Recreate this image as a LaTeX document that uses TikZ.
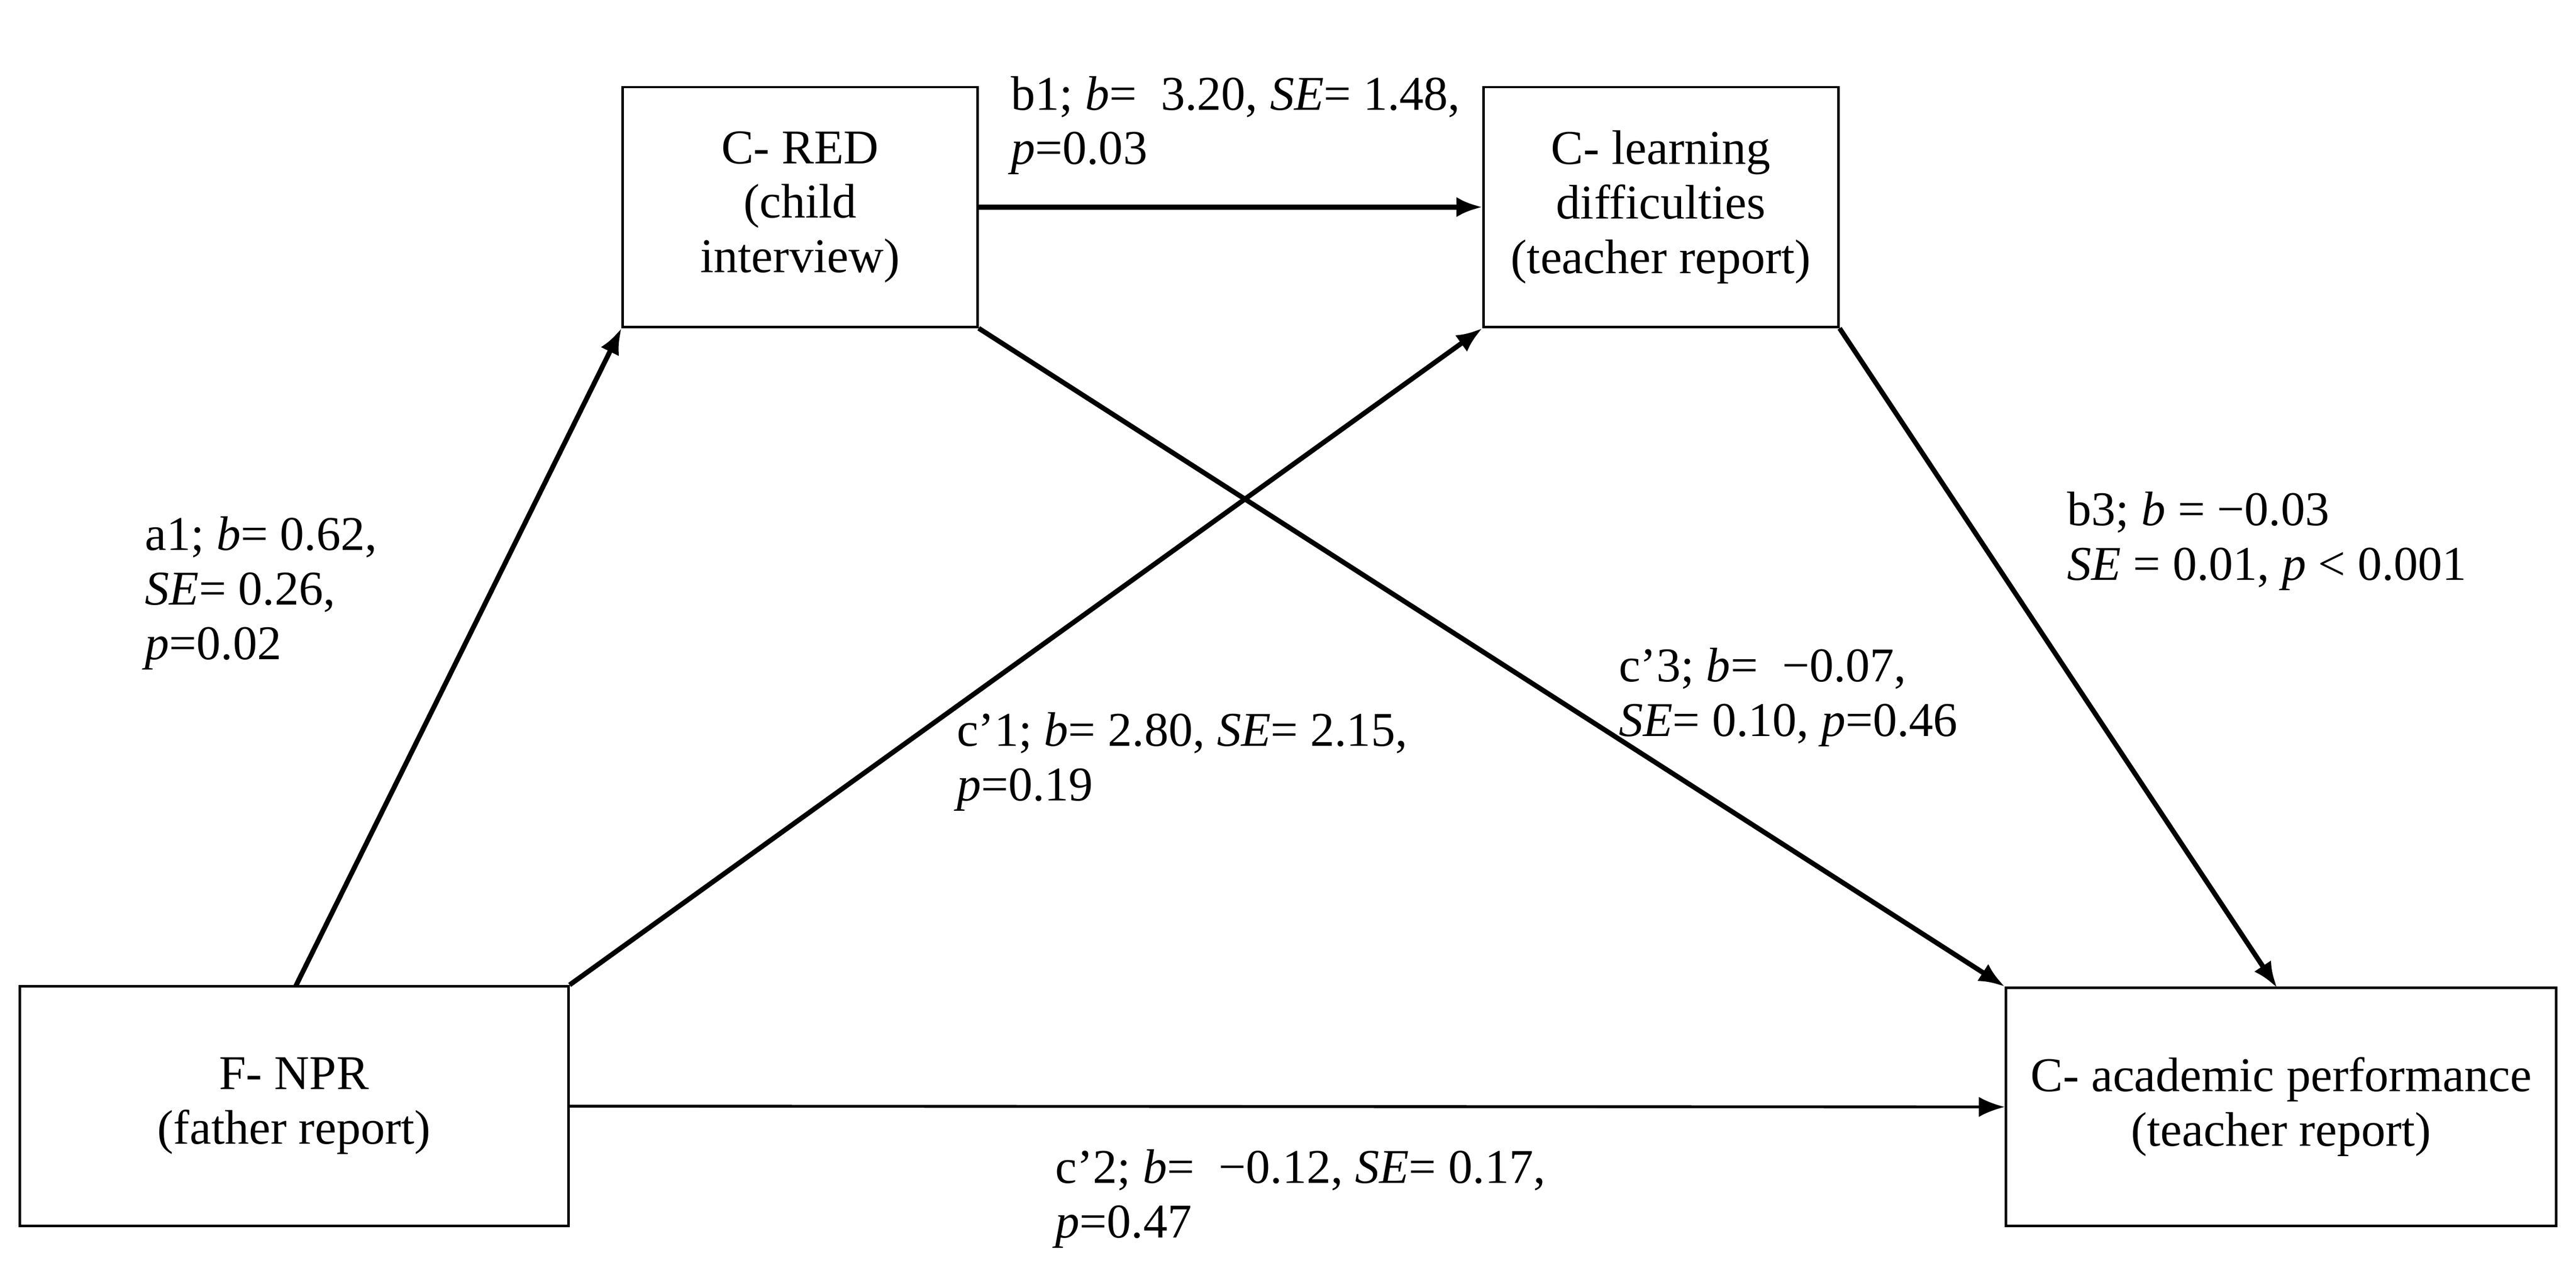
\documentclass[tikz,border=0pt]{standalone}
\usepackage{fontspec}
\setmainfont{Liberation Serif}
\usetikzlibrary{arrows.meta}
\begin{document}
\begin{tikzpicture}[x=0.02cm,y=-0.02cm,
  font=\fontsize{16.8}{18.9}\selectfont,
  box/.style={draw,line width=0.85pt,align=center,inner sep=0pt},
  lab/.style={anchor=north west,align=left,inner sep=0pt},
  arr/.style={line width=1.7pt,-{Latex[length=9pt,width=7pt]}},
  thin arr/.style={line width=1pt,-{Latex[length=9pt,width=7pt]}}]
\useasboundingbox (0,0) rectangle (1568,783);
\node[box,minimum width=4.32cm,minimum height=2.92cm] (red) at (487,126) {C- RED\\(child\\interview)};
\node[box,minimum width=4.32cm,minimum height=2.92cm] (ld) at (1011,126) {C- learning\\difficulties\\(teacher report)};
\node[box,minimum width=6.68cm,minimum height=2.92cm] (npr) at (179,673) {F- NPR\\(father report)};
\node[box,minimum width=6.7cm,minimum height=2.9cm] (ap) at (1388.5,673.5) {C- academic performance\\(teacher report)};
\coordinate (a1s) at (180,600);
\draw[arr] (a1s) -- (red.south west);
\draw[arr] (red.east) -- (ld.west);
\draw[arr] (npr.north east) -- (ld.south west);
\draw[arr] (red.south east) -- (ap.north west);
\coordinate (b3e) at (1386,601);
\draw[arr] (ld.south east) -- (b3e);
\draw[thin arr] (npr.east) -- (ap.west);
\node[lab] (lb1) at (615,46) {b1; \textit{b}=\ \ 3.20, \textit{SE}= 1.48,\\\textit{p}=0.03};
\node[lab] (la1) at (88,314) {a1; \textit{b}= 0.62,\\\textit{SE}= 0.26,\\\textit{p}=0.02};
\node[lab] (lb3) at (1258,299) {b3; \textit{b} = −0.03\\\textit{SE} = 0.01, \textit{p} < 0.001};
\node[lab] (lc3) at (985,394) {c’3; \textit{b}=\ \ −0.07,\\\textit{SE}= 0.10, \textit{p}=0.46};
\node[lab] (lc1) at (582,433) {c’1; \textit{b}= 2.80, \textit{SE}= 2.15,\\\textit{p}=0.19};
\node[lab] (lc2) at (642,699) {c{\char"27}2; \textit{b}=\ \ −0.12, \textit{SE}= 0.17,\\\textit{p}=0.47};
\end{tikzpicture}
\end{document}
